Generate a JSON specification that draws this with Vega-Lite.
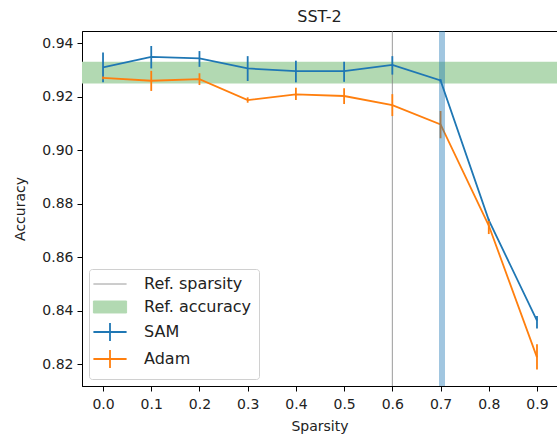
{
  "$schema": "https://vega.github.io/schema/vega-lite/v6.json",
  "width": 475,
  "height": 355,
  "autosize": {"type": "none"},
  "padding": {"left": 82, "top": 31, "right": 0, "bottom": 48},
  "config": {
    "font": "DejaVu Sans",
    "view": {"stroke": "black", "strokeWidth": 1},
    "axis": {
      "grid": false,
      "domainColor": "black",
      "tickColor": "black",
      "tickSize": 5,
      "labelPadding": 4,
      "labelFontSize": 14,
      "labelColor": "#222",
      "titleFontSize": 14,
      "titleFontWeight": "normal",
      "titleColor": "#222",
      "labelFont": "DejaVu Sans",
      "titleFont": "DejaVu Sans"
    },
    "title": {"fontSize": 16, "fontWeight": "normal", "font": "DejaVu Sans", "color": "#222"}
  },
  "title": {"text": "SST-2", "offset": 3},
  "datasets": {
    "series": [
      {"method": "SAM", "sparsity": 0.0, "acc": 0.9309, "lo": 0.9253, "hi": 0.9365},
      {"method": "SAM", "sparsity": 0.1, "acc": 0.9348, "lo": 0.9305, "hi": 0.9389},
      {"method": "SAM", "sparsity": 0.2, "acc": 0.9343, "lo": 0.9311, "hi": 0.937},
      {"method": "SAM", "sparsity": 0.3, "acc": 0.9305, "lo": 0.9258, "hi": 0.9351},
      {"method": "SAM", "sparsity": 0.4, "acc": 0.9295, "lo": 0.9253, "hi": 0.9334},
      {"method": "SAM", "sparsity": 0.5, "acc": 0.9295, "lo": 0.9255, "hi": 0.933},
      {"method": "SAM", "sparsity": 0.6, "acc": 0.9318, "lo": 0.9282, "hi": 0.9351},
      {"method": "SAM", "sparsity": 0.7, "acc": 0.926, "lo": 0.9255, "hi": 0.9265},
      {"method": "SAM", "sparsity": 0.8, "acc": 0.8738, "lo": 0.8733, "hi": 0.8743},
      {"method": "SAM", "sparsity": 0.9, "acc": 0.8362, "lo": 0.8333, "hi": 0.838},
      {"method": "Adam", "sparsity": 0.0, "acc": 0.927, "lo": 0.9265, "hi": 0.9275},
      {"method": "Adam", "sparsity": 0.1, "acc": 0.9259, "lo": 0.9221, "hi": 0.9296},
      {"method": "Adam", "sparsity": 0.2, "acc": 0.9265, "lo": 0.9243, "hi": 0.9287},
      {"method": "Adam", "sparsity": 0.3, "acc": 0.9187, "lo": 0.9177, "hi": 0.9197},
      {"method": "Adam", "sparsity": 0.4, "acc": 0.9208, "lo": 0.9187, "hi": 0.9233},
      {"method": "Adam", "sparsity": 0.5, "acc": 0.9202, "lo": 0.9172, "hi": 0.9231},
      {"method": "Adam", "sparsity": 0.6, "acc": 0.9168, "lo": 0.9127, "hi": 0.9209},
      {"method": "Adam", "sparsity": 0.7, "acc": 0.9096, "lo": 0.9044, "hi": 0.9146},
      {"method": "Adam", "sparsity": 0.8, "acc": 0.8718, "lo": 0.8686, "hi": 0.8735},
      {"method": "Adam", "sparsity": 0.9, "acc": 0.8225, "lo": 0.818, "hi": 0.8274}
    ],
    "band": [{"label": "Ref. accuracy", "lo": 0.9249, "hi": 0.933}],
    "refline": [{"label": "Ref. sparsity", "x": 0.6}],
    "vline": [{"x": 0.703}]
  },
  "layer": [
    {
      "data": {"name": "band"},
      "mark": {"type": "rect", "opacity": 1},
      "encoding": {
        "y": {"field": "lo", "type": "quantitative", "scale": {"domain": [0.8118, 0.9445], "nice": false, "zero": false}, "axis": {"title": "Accuracy", "values": [0.82, 0.84, 0.86, 0.88, 0.9, 0.92, 0.94], "format": ".2f", "titlePadding": 14}},
        "y2": {"field": "hi"},
        "color": {
          "field": "label", "type": "nominal",
          "scale": {"domain": ["Ref. sparsity", "Ref. accuracy", "SAM", "Adam"], "range": ["#808080", "#b2d9b2", "#1f77b4", "#ff7f0e"]},
          "legend": {
            "title": null,
            "orient": "bottom-left",
            "offset": 7,
            "labelFontSize": 16,
            "labelFont": "DejaVu Sans",
            "labelColor": "#222",
            "symbolSize": 1100,
            "symbolStrokeWidth": 1.8,
            "symbolOpacity": 1,
            "symbolOffset": 6,
            "rowPadding": 1,
            "labelOffset": 14,
            "padding": 7,
            "fillColor": "rgba(255,255,255,0.85)",
            "strokeColor": "#d0d0d0",
            "cornerRadius": 3,
            "encode": {
              "labels": {"update": {"dx": {"value": 12}}},
              "symbols": {
                "update": {
                  "shape": {"signal": "datum.value === 'Ref. accuracy' ? 'M-1,-0.36H1V0.36H-1ZM0,-0.54V-0.54M0,0.54V0.54' : (datum.value === 'Ref. sparsity' ? 'M-1,0H1M0,-0.54V-0.54M0,0.54V0.54' : 'M-1,0H1M0,-0.54V0.54')"},
                  "fill": {"signal": "datum.value === 'Ref. accuracy' ? '#b2d9b2' : 'transparent'"},
                  "stroke": {"signal": "datum.value === 'Ref. accuracy' ? '#a6d3a6' : (datum.value === 'Ref. sparsity' ? '#808080' : (datum.value === 'SAM' ? '#1f77b4' : '#ff7f0e'))"},
                  "strokeWidth": {"signal": "datum.value === 'Ref. sparsity' ? 0.8 : (datum.value === 'Ref. accuracy' ? 1 : 1.8)"},
                  "opacity": {"value": 1}
                }
              }
            }
          }
        }
      }
    },
    {
      "data": {"name": "refline"},
      "mark": {"type": "rule", "strokeWidth": 0.8},
      "encoding": {
        "x": {"field": "x", "type": "quantitative"},
        "color": {"field": "label", "type": "nominal"}
      }
    },
    {
      "data": {"name": "series"},
      "mark": {"type": "line", "strokeWidth": 1.8},
      "encoding": {
        "x": {"field": "sparsity", "type": "quantitative", "scale": {"domain": [-0.0436, 0.9415], "nice": false, "zero": false}, "axis": {"title": "Sparsity", "values": [0, 0.1, 0.2, 0.3, 0.4, 0.5, 0.6, 0.7, 0.8, 0.9], "format": ".1f", "labelPadding": 6, "titlePadding": 8}},
        "y": {"field": "acc", "type": "quantitative"},
        "color": {"field": "method", "type": "nominal"},
        "detail": {"field": "method"}
      }
    },
    {
      "data": {"name": "series"},
      "mark": {"type": "rule", "strokeWidth": 1.8},
      "encoding": {
        "x": {"field": "sparsity", "type": "quantitative"},
        "y": {"field": "lo", "type": "quantitative"},
        "y2": {"field": "hi"},
        "color": {"field": "method", "type": "nominal"}
      }
    },
    {
      "data": {"name": "vline"},
      "mark": {"type": "rule", "strokeWidth": 6, "color": "#1f77b4", "opacity": 0.42},
      "encoding": {
        "x": {"field": "x", "type": "quantitative"}
      }
    }
  ]
}
